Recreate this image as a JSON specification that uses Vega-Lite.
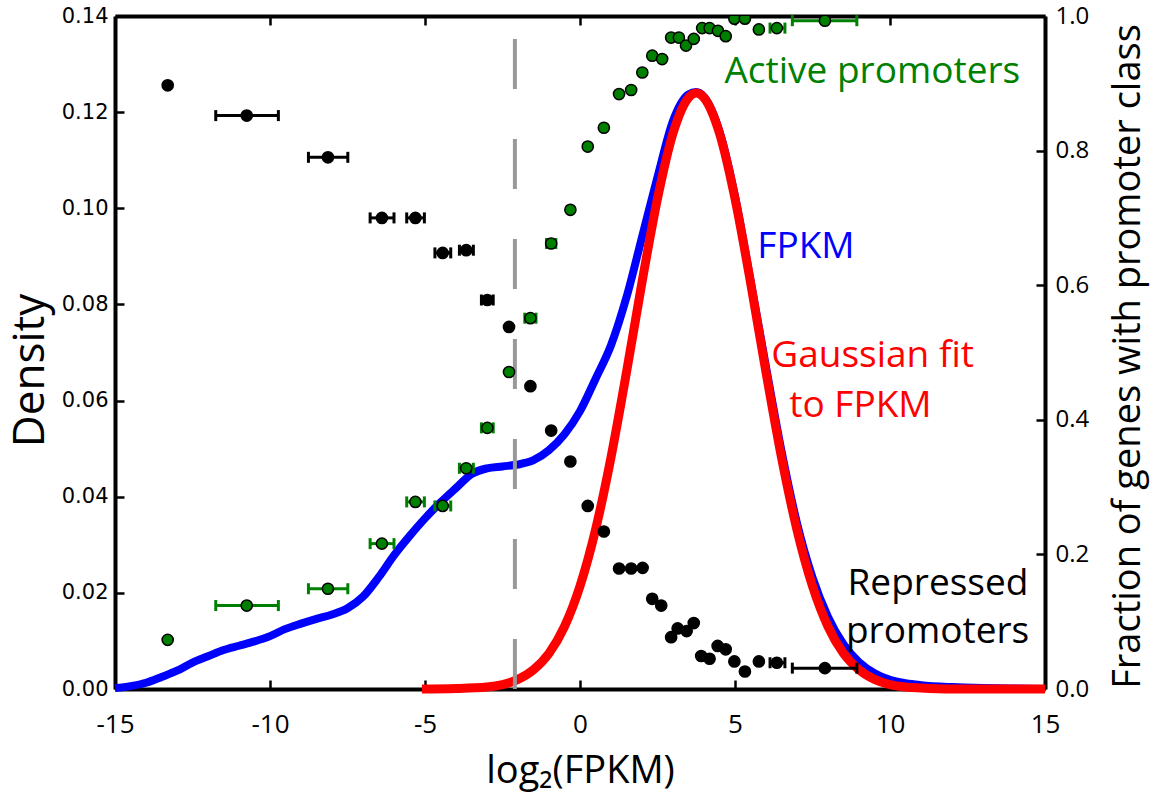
{
  "$schema": "https://vega.github.io/schema/vega-lite/v6.json",
  "width": 930,
  "height": 673,
  "autosize": {"type": "none"},
  "padding": {"left": 115, "top": 16, "right": 108, "bottom": 117},
  "background": "white",
  "config": {
    "view": {"stroke": null},
    "axis": {
      "grid": false,
      "domainColor": "black",
      "domainWidth": 4,
      "tickColor": "black",
      "tickWidth": 2.5,
      "tickSize": -9,
      "labelColor": "black",
      "titleColor": "black",
      "titleFontWeight": "normal",
      "labelOverlap": false,
      "labelBound": false,
      "labelFlush": false,
      "zindex": 1
    }
  },
  "datasets": {
    "one": [{"k": 1}],
    "fpkm": [
      {"x": -15, "d": 0.0002}, {"x": -14.5, "d": 0.0006}, {"x": -14, "d": 0.0013},
      {"x": -13.5, "d": 0.0025}, {"x": -13, "d": 0.0038}, {"x": -12.5, "d": 0.0055},
      {"x": -12, "d": 0.0068}, {"x": -11.5, "d": 0.0081}, {"x": -11, "d": 0.0090},
      {"x": -10.5, "d": 0.0099}, {"x": -10, "d": 0.0110}, {"x": -9.5, "d": 0.0125},
      {"x": -9, "d": 0.0136}, {"x": -8.5, "d": 0.0146}, {"x": -8, "d": 0.0155},
      {"x": -7.5, "d": 0.0168}, {"x": -7, "d": 0.0192}, {"x": -6.5, "d": 0.0232},
      {"x": -6, "d": 0.0278}, {"x": -5.5, "d": 0.0318}, {"x": -5, "d": 0.0355},
      {"x": -4.5, "d": 0.0388}, {"x": -4, "d": 0.0418}, {"x": -3.5, "d": 0.0447},
      {"x": -3, "d": 0.0459}, {"x": -2.5, "d": 0.0463}, {"x": -2, "d": 0.0467},
      {"x": -1.5, "d": 0.0476}, {"x": -1, "d": 0.0497}, {"x": -0.5, "d": 0.0530},
      {"x": 0, "d": 0.0578}, {"x": 0.5, "d": 0.0645}, {"x": 1, "d": 0.0715},
      {"x": 1.5, "d": 0.0815}, {"x": 2, "d": 0.0940}, {"x": 2.5, "d": 0.1065},
      {"x": 3, "d": 0.1182}, {"x": 3.5, "d": 0.1237}, {"x": 3.75, "d": 0.1242},
      {"x": 4, "d": 0.1232}, {"x": 4.5, "d": 0.1160}, {"x": 5, "d": 0.1025},
      {"x": 5.5, "d": 0.0850}, {"x": 6, "d": 0.0670}, {"x": 6.5, "d": 0.0495},
      {"x": 7, "d": 0.0345}, {"x": 7.5, "d": 0.0232}, {"x": 8, "d": 0.0150},
      {"x": 8.5, "d": 0.0093}, {"x": 9, "d": 0.0056}, {"x": 9.5, "d": 0.0033},
      {"x": 10, "d": 0.0019}, {"x": 10.5, "d": 0.0012}, {"x": 11, "d": 0.0008},
      {"x": 12, "d": 0.0004}, {"x": 13, "d": 0.0002}, {"x": 14, "d": 0.0001},
      {"x": 15, "d": 0.0}
    ],
    "gauss": [
      {"x": -5.1, "d": 0.0}, {"x": -4, "d": 0.0001}, {"x": -3, "d": 0.0004},
      {"x": -2.5, "d": 0.0009}, {"x": -2, "d": 0.0020}, {"x": -1.5, "d": 0.0040},
      {"x": -1, "d": 0.0074}, {"x": -0.5, "d": 0.0130}, {"x": 0, "d": 0.0214},
      {"x": 0.5, "d": 0.0331}, {"x": 1, "d": 0.0482}, {"x": 1.5, "d": 0.0659},
      {"x": 2, "d": 0.0846}, {"x": 2.5, "d": 0.1020}, {"x": 3, "d": 0.1156},
      {"x": 3.5, "d": 0.1230}, {"x": 3.75, "d": 0.1240}, {"x": 4, "d": 0.1230},
      {"x": 4.5, "d": 0.1156}, {"x": 5, "d": 0.1020}, {"x": 5.5, "d": 0.0846},
      {"x": 6, "d": 0.0659}, {"x": 6.5, "d": 0.0482}, {"x": 7, "d": 0.0331},
      {"x": 7.5, "d": 0.0214}, {"x": 8, "d": 0.0130}, {"x": 8.5, "d": 0.0074},
      {"x": 9, "d": 0.0040}, {"x": 9.5, "d": 0.0020}, {"x": 10, "d": 0.0009},
      {"x": 10.5, "d": 0.0004}, {"x": 11, "d": 0.0002}, {"x": 12, "d": 0.0},
      {"x": 15, "d": 0.0}
    ],
    "frac": [
      {"x": -13.30, "f": 0.897, "cls": "repressed", "lo": null, "hi": null},
      {"x": -10.75, "f": 0.852, "cls": "repressed", "lo": -11.75, "hi": -9.73},
      {"x": -8.13, "f": 0.790, "cls": "repressed", "lo": -8.76, "hi": -7.49},
      {"x": -6.39, "f": 0.700, "cls": "repressed", "lo": -6.77, "hi": -6.00},
      {"x": -5.31, "f": 0.700, "cls": "repressed", "lo": -5.59, "hi": -5.02},
      {"x": -4.43, "f": 0.648, "cls": "repressed", "lo": -4.68, "hi": -4.17},
      {"x": -3.67, "f": 0.652, "cls": "repressed", "lo": -3.89, "hi": -3.44},
      {"x": -2.99, "f": 0.578, "cls": "repressed", "lo": -3.18, "hi": -2.80},
      {"x": -2.29, "f": 0.538, "cls": "repressed", "lo": null, "hi": null},
      {"x": -1.60, "f": 0.450, "cls": "repressed", "lo": null, "hi": null},
      {"x": -0.93, "f": 0.384, "cls": "repressed", "lo": null, "hi": null},
      {"x": -0.31, "f": 0.338, "cls": "repressed", "lo": null, "hi": null},
      {"x": 0.25, "f": 0.272, "cls": "repressed", "lo": null, "hi": null},
      {"x": 0.77, "f": 0.234, "cls": "repressed", "lo": null, "hi": null},
      {"x": 1.26, "f": 0.179, "cls": "repressed", "lo": null, "hi": null},
      {"x": 1.65, "f": 0.179, "cls": "repressed", "lo": null, "hi": null},
      {"x": 2.02, "f": 0.180, "cls": "repressed", "lo": null, "hi": null},
      {"x": 2.33, "f": 0.134, "cls": "repressed", "lo": null, "hi": null},
      {"x": 2.62, "f": 0.124, "cls": "repressed", "lo": null, "hi": null},
      {"x": 2.94, "f": 0.077, "cls": "repressed", "lo": null, "hi": null},
      {"x": 3.15, "f": 0.090, "cls": "repressed", "lo": null, "hi": null},
      {"x": 3.44, "f": 0.086, "cls": "repressed", "lo": null, "hi": null},
      {"x": 3.67, "f": 0.098, "cls": "repressed", "lo": null, "hi": null},
      {"x": 3.91, "f": 0.049, "cls": "repressed", "lo": null, "hi": null},
      {"x": 4.18, "f": 0.045, "cls": "repressed", "lo": null, "hi": null},
      {"x": 4.44, "f": 0.064, "cls": "repressed", "lo": null, "hi": null},
      {"x": 4.70, "f": 0.059, "cls": "repressed", "lo": null, "hi": null},
      {"x": 4.98, "f": 0.041, "cls": "repressed", "lo": null, "hi": null},
      {"x": 5.32, "f": 0.026, "cls": "repressed", "lo": null, "hi": null},
      {"x": 5.77, "f": 0.041, "cls": "repressed", "lo": null, "hi": null},
      {"x": 6.35, "f": 0.039, "cls": "repressed", "lo": 6.13, "hi": 6.61},
      {"x": 7.90, "f": 0.031, "cls": "repressed", "lo": 6.85, "hi": 8.93},
      {"x": -13.30, "f": 0.073, "cls": "active", "lo": null, "hi": null},
      {"x": -10.75, "f": 0.124, "cls": "active", "lo": -11.75, "hi": -9.73},
      {"x": -8.13, "f": 0.149, "cls": "active", "lo": -8.76, "hi": -7.49},
      {"x": -6.39, "f": 0.216, "cls": "active", "lo": -6.77, "hi": -6.00},
      {"x": -5.31, "f": 0.278, "cls": "active", "lo": -5.59, "hi": -5.02},
      {"x": -4.43, "f": 0.272, "cls": "active", "lo": -4.68, "hi": -4.17},
      {"x": -3.67, "f": 0.328, "cls": "active", "lo": -3.89, "hi": -3.44},
      {"x": -2.99, "f": 0.388, "cls": "active", "lo": -3.18, "hi": -2.80},
      {"x": -2.29, "f": 0.471, "cls": "active", "lo": null, "hi": null},
      {"x": -1.60, "f": 0.551, "cls": "active", "lo": -1.78, "hi": -1.42},
      {"x": -0.93, "f": 0.662, "cls": "active", "lo": -1.08, "hi": -0.78},
      {"x": -0.31, "f": 0.712, "cls": "active", "lo": null, "hi": null},
      {"x": 0.25, "f": 0.806, "cls": "active", "lo": null, "hi": null},
      {"x": 0.77, "f": 0.834, "cls": "active", "lo": null, "hi": null},
      {"x": 1.26, "f": 0.884, "cls": "active", "lo": null, "hi": null},
      {"x": 1.65, "f": 0.890, "cls": "active", "lo": null, "hi": null},
      {"x": 2.01, "f": 0.916, "cls": "active", "lo": null, "hi": null},
      {"x": 2.33, "f": 0.941, "cls": "active", "lo": null, "hi": null},
      {"x": 2.65, "f": 0.936, "cls": "active", "lo": null, "hi": null},
      {"x": 2.94, "f": 0.968, "cls": "active", "lo": null, "hi": null},
      {"x": 3.19, "f": 0.968, "cls": "active", "lo": null, "hi": null},
      {"x": 3.42, "f": 0.956, "cls": "active", "lo": null, "hi": null},
      {"x": 3.67, "f": 0.966, "cls": "active", "lo": null, "hi": null},
      {"x": 3.94, "f": 0.982, "cls": "active", "lo": null, "hi": null},
      {"x": 4.18, "f": 0.982, "cls": "active", "lo": null, "hi": null},
      {"x": 4.45, "f": 0.978, "cls": "active", "lo": null, "hi": null},
      {"x": 4.70, "f": 0.970, "cls": "active", "lo": null, "hi": null},
      {"x": 4.98, "f": 0.996, "cls": "active", "lo": null, "hi": null},
      {"x": 5.32, "f": 0.996, "cls": "active", "lo": null, "hi": null},
      {"x": 5.77, "f": 0.980, "cls": "active", "lo": null, "hi": null},
      {"x": 6.35, "f": 0.982, "cls": "active", "lo": 6.13, "hi": 6.61},
      {"x": 7.90, "f": 0.993, "cls": "active", "lo": 6.85, "hi": 8.93}
    ]
  },
  "layer": [
    {
      "layer": [
        {
          "data": {"name": "fpkm"},
          "mark": {"type": "line", "color": "#0000ff", "strokeWidth": 8, "strokeJoin": "round", "interpolate": "monotone"},
          "encoding": {
            "x": {
              "field": "x", "type": "quantitative",
              "scale": {"domain": [-15, 15], "nice": false, "zero": false},
              "axis": {
                "orient": "bottom",
                "values": [-15, -10, -5, 0, 5, 10, 15],
                "labelExpr": "toString(datum.value)",
                "labelFont": "Open Sans", "labelFontSize": 26, "labelPadding": 31,
                "title": "log₂(FPKM)", "titleFont": "Open Sans", "titleFontSize": 38,
                "titleX": 465, "titleY": 93, "titleBaseline": "alphabetic", "titleAlign": "center"
              }
            },
            "y": {
              "field": "d", "type": "quantitative",
              "scale": {"domain": [0, 0.14], "nice": false, "zero": false},
              "axis": {
                "orient": "left",
                "values": [0, 0.02, 0.04, 0.06, 0.08, 0.1, 0.12, 0.14],
                "format": ".2f",
                "labelFont": "DejaVu Sans", "labelFontSize": 21, "labelPadding": 16,
                "title": "Density", "titleFont": "Open Sans", "titleFontSize": 44,
                "titleX": -85, "titleY": 354, "titleAngle": 270,
                "titleBaseline": "middle", "titleAlign": "center"
              }
            }
          }
        },
        {
          "data": {"name": "gauss"},
          "mark": {"type": "line", "color": "#ff0000", "strokeWidth": 9, "strokeJoin": "round", "interpolate": "monotone"},
          "encoding": {
            "x": {"field": "x", "type": "quantitative"},
            "y": {"field": "d", "type": "quantitative"}
          }
        },
        {
          "data": {"name": "one"},
          "mark": {"type": "rule", "color": "#999999", "strokeWidth": 4, "strokeDash": [50, 50], "strokeDashOffset": 77},
          "encoding": {"x": {"datum": -2.1, "type": "quantitative"}}
        },
        {
          "data": {"name": "one"},
          "mark": {"type": "text", "text": "Active promoters", "color": "#008000", "font": "Open Sans", "fontSize": 37, "align": "left", "baseline": "alphabetic"},
          "encoding": {"x": {"datum": 4.66, "type": "quantitative"}, "y": {"datum": 0.126, "type": "quantitative"}}
        },
        {
          "data": {"name": "one"},
          "mark": {"type": "text", "text": "FPKM", "color": "#0000ff", "font": "Open Sans", "fontSize": 37, "align": "left", "baseline": "alphabetic"},
          "encoding": {"x": {"datum": 5.72, "type": "quantitative"}, "y": {"datum": 0.0897, "type": "quantitative"}}
        },
        {
          "data": {"name": "one"},
          "mark": {"type": "text", "text": "Gaussian fit", "color": "#ff0000", "font": "Open Sans", "fontSize": 37, "align": "left", "baseline": "alphabetic"},
          "encoding": {"x": {"datum": 6.17, "type": "quantitative"}, "y": {"datum": 0.067, "type": "quantitative"}}
        },
        {
          "data": {"name": "one"},
          "mark": {"type": "text", "text": "to FPKM", "color": "#ff0000", "font": "Open Sans", "fontSize": 37, "align": "left", "baseline": "alphabetic"},
          "encoding": {"x": {"datum": 6.75, "type": "quantitative"}, "y": {"datum": 0.0566, "type": "quantitative"}}
        },
        {
          "data": {"name": "one"},
          "mark": {"type": "text", "text": "Repressed", "color": "black", "font": "Open Sans", "fontSize": 37, "align": "left", "baseline": "alphabetic"},
          "encoding": {"x": {"datum": 8.63, "type": "quantitative"}, "y": {"datum": 0.01955, "type": "quantitative"}}
        },
        {
          "data": {"name": "one"},
          "mark": {"type": "text", "text": "promoters", "color": "black", "font": "Open Sans", "fontSize": 37, "align": "left", "baseline": "alphabetic"},
          "encoding": {"x": {"datum": 8.58, "type": "quantitative"}, "y": {"datum": 0.0096, "type": "quantitative"}}
        }
      ]
    },
    {
      "data": {"name": "frac"},
      "layer": [
        {
          "transform": [{"filter": "isValid(datum.lo)"}],
          "mark": {"type": "rule", "strokeWidth": 3},
          "encoding": {
            "x": {
              "field": "lo", "type": "quantitative",
              "axis": {"orient": "top", "labels": false, "title": null, "values": [-10, -5, 0, 5, 10]}
            },
            "x2": {"field": "hi"},
            "y": {
              "field": "f", "type": "quantitative",
              "scale": {"domain": [0, 1], "nice": false, "zero": false},
              "axis": {
                "orient": "right",
                "values": [0, 0.2, 0.4, 0.6, 0.8, 1.0],
                "format": ".1f",
                "labelFont": "Open Sans", "labelFontSize": 24, "labelPadding": 19,
                "title": "Fraction of genes with promoter class", "titleFont": "Open Sans", "titleFontSize": 38,
                "titleX": 83, "titleY": 340, "titleAngle": 270,
                "titleBaseline": "middle", "titleAlign": "center"
              }
            },
            "color": {"field": "cls", "type": "nominal", "scale": {"domain": ["repressed", "active"], "range": ["black", "#008000"]}, "legend": null}
          }
        },
        {
          "transform": [{"filter": "isValid(datum.lo)"}],
          "mark": {"type": "tick", "orient": "vertical", "size": 11, "thickness": 3, "opacity": 1},
          "encoding": {
            "x": {"field": "lo", "type": "quantitative"},
            "y": {"field": "f", "type": "quantitative"},
            "color": {"field": "cls", "type": "nominal", "legend": null}
          }
        },
        {
          "transform": [{"filter": "isValid(datum.lo)"}],
          "mark": {"type": "tick", "orient": "vertical", "size": 11, "thickness": 3, "opacity": 1},
          "encoding": {
            "x": {"field": "hi", "type": "quantitative"},
            "y": {"field": "f", "type": "quantitative"},
            "color": {"field": "cls", "type": "nominal", "legend": null}
          }
        },
        {
          "mark": {"type": "point", "filled": true, "size": 125, "stroke": "black", "strokeWidth": 1.5, "opacity": 1, "clip": true},
          "encoding": {
            "x": {"field": "x", "type": "quantitative"},
            "y": {"field": "f", "type": "quantitative"},
            "fill": {"field": "cls", "type": "nominal", "scale": {"domain": ["repressed", "active"], "range": ["black", "#008000"]}, "legend": null}
          }
        }
      ]
    }
  ],
  "resolve": {"scale": {"y": "independent"}, "axis": {"x": "independent"}}
}
